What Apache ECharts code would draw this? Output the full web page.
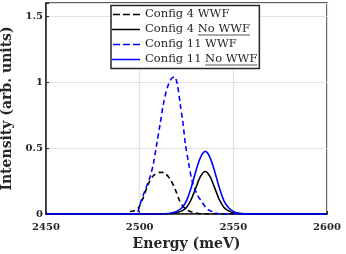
<!DOCTYPE html>
<html>
<head>
<meta charset="utf-8">
<script src="https://cdn.jsdelivr.net/npm/echarts@6/dist/echarts.min.js"></script>
<style>html,body{margin:0;padding:0;background:#fff}#c{width:346px;height:254px}</style>
</head>
<body>
<div id="c"></div>
<script>
// Series names
var seriesNames = ['Config 4 WWF', 'Config 4 No WWF', 'Config 11 WWF', 'Config 11 No WWF'];
// Tick values
var xTicks = [2450, 2500, 2550, 2600];
var yTicks = [0, 0.5, 1, 1.5];

// Config 4 WWF (black dashed)
var c4wwfE = [2450, 2493, 2494, 2497, 2499.3, 2502, 2504.6, 2507.3, 2510.9, 2513.5, 2516.2, 2518.9, 2521, 2523, 2526, 2530, 2535, 2600];
var c4wwfI = [0, 0, 0.015, 0.025, 0.045, 0.127, 0.227, 0.29, 0.316, 0.31, 0.265, 0.19, 0.11, 0.06, 0.025, 0.008, 0, 0];
// Config 4 No WWF (black solid)
var c4nowE = [2450, 2512, 2517, 2520, 2522.5, 2525, 2527.5, 2530, 2532.5, 2535, 2537.5, 2540, 2542.5, 2545, 2547.5, 2550, 2553, 2558, 2600];
var c4nowI = [0, 0, 0.004, 0.012, 0.024, 0.05, 0.11, 0.2, 0.285, 0.322, 0.285, 0.2, 0.11, 0.05, 0.024, 0.01, 0.003, 0, 0];
// Config 11 WWF (blue dashed)
var c11wwfE = [2450, 2498.8, 2499.2, 2499.7, 2501.3, 2502.9, 2505.5, 2507.3, 2509.1, 2510.9, 2512.6, 2514.8, 2517.1, 2518.6, 2520, 2521.7, 2523.2, 2524.4, 2526.2, 2528, 2530.6, 2533.3, 2536, 2539.5, 2543, 2600];
var c11wwfI = [0, 0, 0.02, 0.05, 0.12, 0.18, 0.28, 0.38, 0.53, 0.68, 0.83, 0.96, 1.03, 1.04, 0.99, 0.83, 0.68, 0.53, 0.38, 0.25, 0.15, 0.09, 0.04, 0.013, 0, 0];
// Config 11 No WWF (blue solid)
var c11nowE = [2450, 2510, 2515, 2517.5, 2520, 2522.5, 2525, 2527.5, 2530, 2532.5, 2535.1, 2537.5, 2540, 2542.5, 2545, 2547.5, 2550, 2553, 2560, 2600];
var c11nowI = [0, 0, 0.004, 0.01, 0.022, 0.048, 0.1, 0.2, 0.325, 0.43, 0.475, 0.43, 0.325, 0.2, 0.1, 0.048, 0.02, 0.005, 0, 0];

function pairs(e, v) { return e.map(function (x, i) { return [x, v[i]]; }); }

var serif = "'DejaVu Serif', serif";
var legendFontSize = 11.5;
var legendLeft = 111, legendTop = 5.5, padL = 1, padT = 2, itemW = 28, itemH = 14, itemGap = 1;

function mkSeries(name, data, color, dashed) {
  return {
    name: name, type: 'line', data: data, symbol: 'none', showSymbol: false, symbolSize: 0,
    smooth: 0.3,
    lineStyle: { color: color, width: 1.6, type: dashed ? [5, 3.5] : 'solid' },
    itemStyle: { color: color },
    animation: false
  };
}

// legend icons: line samples (bounding box fixed by zero-area points)
var box = 'M0,0L0,0.001M28,14L28,14.001';
var solidIcon = 'path://' + box + 'M0,6.2h28v1.6h-28z';
var dashIcon = 'path://' + box + 'M1,6.2h7v1.6h-7zM11,6.2h7v1.6h-7zM21,6.2h7v1.6h-7z';

// underline graphics under "No WWF"
var ctx = document.createElement('canvas').getContext('2d');
ctx.font = legendFontSize + 'px ' + serif;
var textStart = legendLeft + padL + itemW + 5;
var graphics = [];
[1, 3].forEach(function (row) {
  var full = seriesNames[row];
  var pre = full.slice(0, full.indexOf('No WWF'));
  var x0 = textStart + ctx.measureText(pre).width;
  var x1 = textStart + ctx.measureText(full).width;
  var yc = legendTop + padT + row * (itemH + itemGap) + itemH / 2 + 5.5;
  graphics.push({ type: 'line', shape: { x1: x0, y1: yc, x2: x1, y2: yc }, style: { stroke: '#555', lineWidth: 1.2 }, z: 100 });
});

var chart = echarts.init(document.getElementById('c'), null, { renderer: 'canvas' });
chart.setOption({
  animation: false,
  backgroundColor: '#fff',
  grid: { left: 46, right: 19, top: 3, bottom: 40, containLabel: false, outerBoundsMode: 'none',
    show: true, borderColor: '#262626', borderWidth: 1.5, backgroundColor: 'transparent' },
  xAxis: {
    type: 'value', min: xTicks[0], max: xTicks[xTicks.length - 1], interval: 50,
    name: 'Energy (meV)', nameLocation: 'middle', nameGap: 21,
    nameTextStyle: { fontFamily: serif, fontWeight: 'bold', fontSize: 14, color: '#262626' },
    axisLine: { lineStyle: { color: '#262626', width: 1.5 } },
    axisTick: { inside: true, length: 3, lineStyle: { color: '#262626' } },
    axisLabel: { fontFamily: serif, fontWeight: 'bold', fontSize: 10, color: '#262626', margin: 8,
      formatter: function (v) { return String(v); } },
    splitLine: { show: true, lineStyle: { color: '#e2e2e2', width: 1.2 } }
  },
  yAxis: {
    type: 'value', min: 0, max: 1.6, interval: 0.5,
    name: 'Intensity (arb. units)', nameLocation: 'middle', nameGap: 25,
    nameTextStyle: { fontFamily: serif, fontWeight: 'bold', fontSize: 14, color: '#262626' },
    axisLine: { show: true, lineStyle: { color: '#262626', width: 1.5 } },
    axisTick: { show: true, inside: true, length: 3, lineStyle: { color: '#262626' } },
    axisLabel: { fontFamily: serif, fontWeight: 'bold', fontSize: 10, color: '#262626', margin: 3,
      formatter: function (v) { return yTicks.indexOf(v) >= 0 ? String(v) : ''; } },
    splitLine: { show: true, lineStyle: { color: '#e2e2e2', width: 1.2 } }
  },
  legend: {
    orient: 'vertical', left: legendLeft, top: legendTop, padding: [padT, 2, padT, padL],
    itemWidth: itemW, itemHeight: itemH, itemGap: itemGap,
    backgroundColor: '#fff', borderColor: '#262626', borderWidth: 1.5, borderRadius: 0,
    textStyle: { fontFamily: serif, fontSize: legendFontSize, color: '#262626', lineHeight: itemH },
    data: [
      { name: seriesNames[0], icon: dashIcon },
      { name: seriesNames[1], icon: solidIcon },
      { name: seriesNames[2], icon: dashIcon },
      { name: seriesNames[3], icon: solidIcon }
    ]
  },
  graphic: graphics,
  series: [
    mkSeries(seriesNames[0], pairs(c4wwfE, c4wwfI), '#000000', true),
    mkSeries(seriesNames[1], pairs(c4nowE, c4nowI), '#000000', false),
    mkSeries(seriesNames[2], pairs(c11wwfE, c11wwfI), '#0000ff', true),
    mkSeries(seriesNames[3], pairs(c11nowE, c11nowI), '#0000ff', false)
  ]
});
</script>
</body>
</html>
